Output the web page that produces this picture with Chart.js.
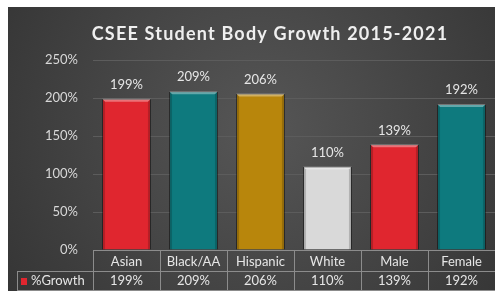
<!DOCTYPE html>
<html>
<head>
<meta charset="utf-8">
<script src="https://cdn.jsdelivr.net/npm/chart.js@4"></script>
<style>
  html, body { margin: 0; padding: 0; background: #fff; }
  #wrap { width: 495px; height: 293px; }
</style>
</head>
<body>
<div id="wrap"><canvas id="growth" width="495" height="293"></canvas></div>
<script>
const categories = ['Asian', 'Black/AA', 'Hispanic', 'White', 'Male', 'Female'];
const growth = [199, 209, 206, 110, 139, 192];
const barColors = ['#e0262f', '#0e7a7e', '#b8860c', '#d9d9d9', '#e0262f', '#0e7a7e'];
const seriesName = '%Growth';
const titleText = 'CSEE Student Body Growth 2015-2021';

const FONT = 'Lato, "Open Sans", sans-serif';

// dark panel with a soft radial glow
const panelBg = {
  id: 'panelBg',
  beforeDraw(chart) {
    const ctx = chart.ctx;
    ctx.save();
    ctx.fillStyle = '#ffffff';
    ctx.fillRect(0, 0, chart.width, chart.height);
    const g = ctx.createRadialGradient(260, 130, 20, 260, 130, 320);
    g.addColorStop(0, '#545454');
    g.addColorStop(1, '#333333');
    ctx.fillStyle = g;
    ctx.fillRect(8, 7, chart.width - 8, 284);
    ctx.restore();
  }
};

// bevel on the bars: light top edge, darker sides
const bevel = {
  id: 'bevel',
  afterDatasetsDraw(chart) {
    const ctx = chart.ctx;
    ctx.save();
    chart.getDatasetMeta(0).data.forEach(bar => {
      const l = bar.x - bar.width / 2, r = bar.x + bar.width / 2;
      const t = bar.y, b = bar.base;
      ctx.fillStyle = 'rgba(255,255,255,0.35)';
      ctx.beginPath();
      ctx.moveTo(l, t); ctx.lineTo(r, t); ctx.lineTo(r - 3, t + 3); ctx.lineTo(l + 3, t + 3);
      ctx.closePath(); ctx.fill();
      ctx.fillStyle = 'rgba(0,0,0,0.18)';
      ctx.beginPath();
      ctx.moveTo(l, t); ctx.lineTo(l + 3, t + 3); ctx.lineTo(l + 3, b); ctx.lineTo(l, b);
      ctx.closePath(); ctx.fill();
      ctx.beginPath();
      ctx.moveTo(r, t); ctx.lineTo(r - 3, t + 3); ctx.lineTo(r - 3, b); ctx.lineTo(r, b);
      ctx.closePath(); ctx.fill();
    });
    ctx.restore();
  }
};

// title + value labels + data table
const extras = {
  id: 'extras',
  afterDraw(chart) {
    const ctx = chart.ctx;
    const x = chart.scales.x;
    const area = chart.chartArea;
    ctx.save();

    // title
    ctx.font = 'bold 18px ' + FONT;
    ctx.letterSpacing = '1.2px';
    ctx.fillStyle = '#efefef';
    ctx.textAlign = 'center';
    ctx.textBaseline = 'middle';
    ctx.fillText(titleText, 270, 34);
    ctx.letterSpacing = '0px';

    // labels above bars
    ctx.font = '13px ' + FONT;
    ctx.fillStyle = '#e6e6e6';
    const meta = chart.getDatasetMeta(0);
    meta.data.forEach((bar, i) => {
      ctx.fillText(growth[i] + '%', bar.x, bar.y - 14);
    });

    // data table
    const top = area.bottom, mid = top + 21, bot = mid + 20;
    const colW = (area.right - area.left) / categories.length;
    ctx.strokeStyle = '#8c8c8c';
    ctx.lineWidth = 1;
    ctx.beginPath();
    ctx.moveTo(area.left, top + 0.5); ctx.lineTo(area.right, top + 0.5);
    ctx.moveTo(17, mid + 0.5); ctx.lineTo(area.right, mid + 0.5);
    ctx.moveTo(17, bot - 0.5); ctx.lineTo(area.right, bot - 0.5);
    ctx.moveTo(17.5, mid); ctx.lineTo(17.5, bot);
    for (let i = 0; i <= categories.length; i++) {
      const cx = Math.round(area.left + i * colW) + 0.5;
      ctx.moveTo(cx, top); ctx.lineTo(cx, bot);
    }
    ctx.stroke();

    ctx.font = '13px ' + FONT;
    ctx.fillStyle = '#e6e6e6';
    categories.forEach((c, i) => {
      const cx = x.getPixelForValue(i);
      ctx.fillText(c, cx, (top + mid) / 2 + 1);
      ctx.fillText(growth[i] + '%', cx, (mid + bot) / 2);
    });

    // legend key
    ctx.fillStyle = barColors[0];
    ctx.fillRect(21, (mid + bot) / 2 - 3, 6, 7);
    ctx.fillStyle = '#e6e6e6';
    ctx.textAlign = 'left';
    ctx.fillText(seriesName, 31, (mid + bot) / 2);

    ctx.restore();
  }
};

new Chart(document.getElementById('growth').getContext('2d'), {
  type: 'bar',
  data: {
    labels: categories,
    datasets: [{
      label: seriesName,
      data: growth,
      backgroundColor: barColors,
      borderColor: 'rgba(0,0,0,0.35)',
      borderWidth: 1,
      barPercentage: 0.73,
      categoryPercentage: 1
    }]
  },
  options: {
    responsive: false,
    animation: false,
    layout: { padding: { left: 8, top: 60, right: 0, bottom: 43 } },
    plugins: {
      legend: { display: false },
      title: { display: false },
      tooltip: { enabled: false }
    },
    scales: {
      x: { display: false },
      y: {
        min: 0,
        max: 250,
        ticks: {
          stepSize: 50,
          padding: 15,
          color: '#d8d8d8',
          font: { family: FONT, size: 13 },
          callback: v => v + '%'
        },
        grid: { color: '#5c5c5c', drawTicks: false },
        border: { display: false },
        afterFit(scale) { scale.width = 85; }
      }
    }
  },
  plugins: [panelBg, bevel, extras]
});
</script>
</body>
</html>
